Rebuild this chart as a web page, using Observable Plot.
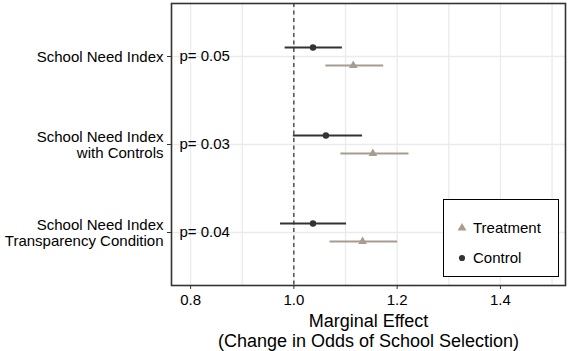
<!DOCTYPE html>
<html>
<head>
<meta charset="utf-8">
<script src="https://cdn.jsdelivr.net/npm/d3@7"></script>
<script src="https://cdn.jsdelivr.net/npm/@observablehq/plot@0.6"></script>
<style>
  body { margin: 0; background: #fff; font-family: "Liberation Sans", Arial, sans-serif; }
  #wrap { position: relative; width: 584px; height: 351px; }
  #legend { position: absolute; left: 443px; top: 199px; width: 114px; height: 76px;
            border: 1.3px solid #000; background: #fff; font-size: 15px; color: #000; }
  .li { position: absolute; left: 0; display: flex; align-items: center; }
  .li svg { margin-left: 13px; margin-right: 6px; }
</style>
</head>
<body>
<div id="wrap"></div>
<script>
const rows = ["School Need Index", "School Need Index\nwith Controls", "School Need Index\nTransparency Condition"];
const pLabels = ["p= 0.05", "p= 0.03", "p= 0.04"];
const controlEst = [1.037, 1.062, 1.037];
const controlLo  = [0.983, 0.999, 0.974];
const controlHi  = [1.094, 1.133, 1.102];
const treatEst = [1.115, 1.153, 1.133];
const treatLo  = [1.062, 1.091, 1.070];
const treatHi  = [1.174, 1.223, 1.201];
const xTicks = [0.8, 1.0, 1.2, 1.4];
const xGrid = [0.8, 0.9, 1.0, 1.1, 1.2, 1.3, 1.4, 1.5];
const refLine = [1];
const seriesNames = ["Treatment", "Control"];

const control = rows.map((r, i) => ({row: r, est: controlEst[i], lo: controlLo[i], hi: controlHi[i]}));
const treat = rows.map((r, i) => ({row: r, est: treatEst[i], lo: treatLo[i], hi: treatHi[i]}));
const pData = rows.map((r, i) => ({row: r, p: pLabels[i]}));

const cCol = "#333333";
const tCol = "#a89c8f";

const chart = Plot.plot({
  width: 584,
  height: 351,
  marginLeft: 171,
  marginRight: 19,
  marginTop: 3,
  marginBottom: 66,
  style: { fontFamily: "'Liberation Sans', Arial, sans-serif", fontSize: "15px", color: "#000", background: "#fff" },
  x: { domain: [0.763, 1.526] },
  y: { domain: rows, type: "point", padding: 0.6 },
  marks: [
    Plot.ruleX(xGrid, { stroke: "#ebebeb", strokeWidth: 1.3 }),
    Plot.ruleY(rows, { y: d => d, stroke: "#ebebeb", strokeWidth: 1.3 }),
    Plot.ruleX(refLine, { stroke: "#000", strokeWidth: 1, strokeDasharray: "4,3.5" }),
    Plot.ruleY(control, { y: "row", x1: "lo", x2: "hi", stroke: cCol, strokeWidth: 2, dy: -9 }),
    Plot.ruleY(treat, { y: "row", x1: "lo", x2: "hi", stroke: tCol, strokeWidth: 2, dy: 9 }),
    Plot.dot(control, { x: "est", y: "row", r: 3.2, fill: cCol, stroke: "none", dy: -9 }),
    Plot.dot(treat, { x: "est", y: "row", r: 3.2, symbol: "triangle", fill: tCol, stroke: "none", dy: 9 }),
    Plot.text(pData, { y: "row", text: "p", frameAnchor: "left", textAnchor: "start", dx: 8, fill: "#000" }),
    Plot.frame({ stroke: "#333", strokeWidth: 1.6 }),
    Plot.axisX({ ticks: xTicks, tickFormat: d3.format(".1f"), tickSize: 4, tickPadding: 5, label: null, stroke: "#333", fill: "#000" }),
    Plot.axisY({ tickSize: 4, tickPadding: 4, label: null, lineHeight: 1.07, stroke: "#333", fill: "#000" }),
    Plot.text(["Marginal Effect\n(Change in Odds of School Selection)"], {
      frameAnchor: "bottom", lineAnchor: "top", dy: 27, fontSize: 18, lineHeight: 1.12, fill: "#000"
    })
  ]
});
document.getElementById("wrap").appendChild(chart);

// legend box
const leg = document.createElement("div");
leg.id = "legend";
const syms = [d3.symbolTriangle, d3.symbolCircle];
const cols = [tCol, cCol];
const tops = [18, 48];
seriesNames.forEach((name, i) => {
  const item = document.createElement("div");
  item.className = "li";
  item.style.top = tops[i] + "px";
  const s = d3.create("svg").attr("width", 10).attr("height", 18);
  s.append("path").attr("transform", "translate(5,10)")
    .attr("d", d3.symbol(syms[i], i === 0 ? 34 : 30)()).attr("fill", cols[i]);
  item.appendChild(s.node());
  const t = document.createElement("span");
  t.textContent = name;
  item.appendChild(t);
  leg.appendChild(item);
});
document.getElementById("wrap").appendChild(leg);
</script>
</body>
</html>
